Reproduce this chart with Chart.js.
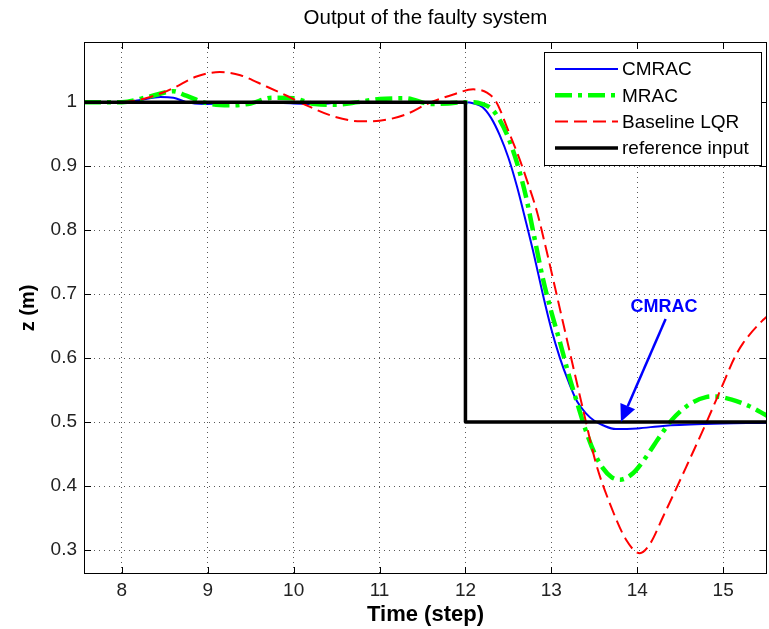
<!DOCTYPE html>
<html>
<head>
<meta charset="utf-8">
<script src="https://cdn.jsdelivr.net/npm/chart.js@4.4.0/dist/chart.umd.min.js"></script>
<style>
  body { margin: 0; background: #fff; }
  canvas { display: block; }
</style>
</head>
<body>
<canvas id="myChart" width="769" height="629"></canvas>
<script>
// tick labels
const xTicks = [8, 9, 10, 11, 12, 13, 14, 15];
const yTicks = [0.3, 0.4, 0.5, 0.6, 0.7, 0.8, 0.9, 1];

// CMRAC
const cmracT = [7.56, 8.0, 8.2, 8.45, 8.6, 8.75, 8.95, 9.2, 9.5, 10.0, 10.3, 10.6, 11.0, 11.5, 12.0, 12.1, 12.2, 12.3, 12.4, 12.5, 12.6, 12.7, 12.8, 12.9, 13.0, 13.1, 13.2, 13.3, 13.4, 13.5, 13.6, 13.75, 14.0, 14.3, 14.8, 15.51];
const cmracZ = [1.0, 1.0, 1.003, 1.008, 1.007, 1.0, 0.997, 0.998, 1.0, 0.998, 0.997, 1.0, 1.0, 1.0, 1.0, 0.998, 0.992, 0.975, 0.948, 0.913, 0.868, 0.815, 0.76, 0.70, 0.645, 0.60, 0.563, 0.532, 0.514, 0.502, 0.495, 0.489, 0.49, 0.494, 0.497, 0.499];

// MRAC
const mracT = [7.56, 8.0, 8.3, 8.5, 8.6, 8.75, 9.0, 9.3, 9.5, 9.75, 10.0, 10.25, 10.5, 10.75, 11.0, 11.3, 11.6, 11.8, 12.0, 12.1, 12.2, 12.3, 12.4, 12.5, 12.6, 12.7, 12.8, 12.9, 13.0, 13.1, 13.2, 13.3, 13.4, 13.5, 13.6, 13.7, 13.8, 13.95, 14.1, 14.25, 14.4, 14.6, 14.8, 14.9, 15.1, 15.3, 15.51];
const mracZ = [1.0, 1.0, 1.008, 1.015, 1.017, 1.01, 0.998, 0.995, 0.998, 1.007, 1.006, 0.997, 0.996, 1.0, 1.005, 1.006, 0.997, 0.998, 1.0, 1.0, 0.997, 0.99, 0.972, 0.944, 0.905, 0.855, 0.79, 0.725, 0.672, 0.625, 0.575, 0.53, 0.487, 0.452, 0.428, 0.414, 0.41, 0.42, 0.445, 0.475, 0.503, 0.527, 0.539, 0.54, 0.535, 0.525, 0.51];

// Baseline LQR
const lqrT = [7.56, 8.0, 8.13, 8.3, 8.48, 8.6, 8.87, 9.14, 9.38, 9.69, 9.92, 10.15, 10.46, 10.78, 11.0, 11.31, 11.55, 11.86, 12.09, 12.25, 12.36, 12.5, 12.63, 12.71, 12.83, 12.94, 13.06, 13.21, 13.37, 13.52, 13.68, 13.87, 14.03, 14.15, 14.3, 14.57, 14.8, 15.0, 15.13, 15.23, 15.46, 15.51];
const lqrZ = [1.0, 1.0, 1.002, 1.007, 1.015, 1.022, 1.04, 1.047, 1.042, 1.024, 1.01, 0.995, 0.978, 0.97, 0.971, 0.981, 0.997, 1.012, 1.02, 1.015, 1.0, 0.955, 0.911, 0.88, 0.83, 0.77, 0.70, 0.612, 0.519, 0.435, 0.373, 0.316, 0.295, 0.31, 0.352, 0.43, 0.498, 0.56, 0.60, 0.623, 0.659, 0.665];

// reference input (step)
const refT = [7.56, 12.0, 12.0, 15.51];
const refZ = [1.0, 1.0, 0.5, 0.5];

// annotation
const titulo = 'Output of the faulty system';
const notaTexto = 'CMRAC';
const notaPos = [14.31, 0.68];
const setaInicio = [14.33, 0.661];
const setaFim = [13.81, 0.5005];

function pontos(t, z) {
    return t.map(function(v, i) { return { x: v, y: z[i] }; });
}

const fonte = "'Liberation Sans', Arial, Helvetica, sans-serif";

// title, box, inner ticks, legend and arrow
const extras = {
    id: 'extras',
    afterDatasetsDraw(chart) {
        const c = chart.ctx;
        const a = chart.chartArea;
        const sx = chart.scales.x;
        const sy = chart.scales.y;
        c.save();

        // title centred over the plot area
        c.fillStyle = '#000';
        c.font = '20.5px ' + fonte;
        c.textAlign = 'center';
        c.textBaseline = 'middle';
        c.fillText(titulo, (a.left + a.right) / 2, 18);

        // frame
        c.strokeStyle = '#000';
        c.lineWidth = 1;
        c.setLineDash([]);
        c.strokeRect(a.left + 0.5, a.top + 0.5, a.right - a.left - 1, a.bottom - a.top - 1);

        // inner tick marks on all sides
        c.beginPath();
        xTicks.forEach(function(v) {
            const px = Math.round(sx.getPixelForValue(v)) + 0.5;
            c.moveTo(px, a.bottom); c.lineTo(px, a.bottom - 7);
            c.moveTo(px, a.top); c.lineTo(px, a.top + 7);
        });
        yTicks.forEach(function(v) {
            const py = Math.round(sy.getPixelForValue(v)) + 0.5;
            c.moveTo(a.left, py); c.lineTo(a.left + 7, py);
            c.moveTo(a.right, py); c.lineTo(a.right - 7, py);
        });
        c.stroke();

        // legend
        const lx = 544, ly = 52, lw = 217, lh = 113;
        c.fillStyle = '#fff';
        c.fillRect(lx, ly, lw, lh);
        c.strokeStyle = '#000';
        c.lineWidth = 1;
        c.strokeRect(lx + 0.5, ly + 0.5, lw, lh);
        chart.data.datasets.forEach(function(ds, k) {
            const yy = 69 + k * 26.3;
            c.strokeStyle = ds.borderColor;
            c.lineWidth = ds.borderWidth;
            c.setLineDash(ds.borderDash || []);
            c.beginPath();
            c.moveTo(555, yy); c.lineTo(618, yy);
            c.stroke();
            c.setLineDash([]);
            c.fillStyle = '#000';
            c.font = '19px ' + fonte;
            c.textAlign = 'left';
            c.textBaseline = 'middle';
            c.fillText(ds.label, 622, yy + 1);
        });

        // CMRAC arrow
        const x0 = sx.getPixelForValue(setaInicio[0]), y0 = sy.getPixelForValue(setaInicio[1]);
        const x1 = sx.getPixelForValue(setaFim[0]), y1 = sy.getPixelForValue(setaFim[1]);
        const ang = Math.atan2(y1 - y0, x1 - x0);
        const cab = 17, larg = 8;
        const bx = x1 - cab * Math.cos(ang), by = y1 - cab * Math.sin(ang);
        c.strokeStyle = '#0000ff';
        c.fillStyle = '#0000ff';
        c.lineWidth = 2.5;
        c.beginPath();
        c.moveTo(x0, y0); c.lineTo(bx, by);
        c.stroke();
        c.beginPath();
        c.moveTo(x1, y1);
        c.lineTo(bx + larg * Math.sin(ang), by - larg * Math.cos(ang));
        c.lineTo(bx - larg * Math.sin(ang), by + larg * Math.cos(ang));
        c.closePath();
        c.fill();
        c.font = 'bold 18px ' + fonte;
        c.textAlign = 'center';
        c.textBaseline = 'middle';
        c.fillText(notaTexto, sx.getPixelForValue(notaPos[0]), sy.getPixelForValue(notaPos[1]));

        c.restore();
    }
};

const ctx = document.getElementById('myChart').getContext('2d');

new Chart(ctx, {
    type: 'line',
    data: {
        datasets: [
            {
                label: 'CMRAC',
                data: pontos(cmracT, cmracZ),
                borderColor: '#0000ff',
                borderWidth: 2,
                cubicInterpolationMode: 'monotone',
                order: 4
            },
            {
                label: 'MRAC',
                data: pontos(mracT, mracZ),
                borderColor: '#00ff00',
                borderWidth: 4.5,
                borderDash: [17, 6, 4, 6],
                cubicInterpolationMode: 'monotone',
                order: 3
            },
            {
                label: 'Baseline LQR',
                data: pontos(lqrT, lqrZ),
                borderColor: '#ff0000',
                borderWidth: 2,
                borderDash: [13, 6],
                cubicInterpolationMode: 'monotone',
                order: 2
            },
            {
                label: 'reference input',
                data: pontos(refT, refZ),
                borderColor: '#000000',
                borderWidth: 3.5,
                tension: 0,
                order: 1
            }
        ]
    },
    options: {
        responsive: false,
        animation: false,
        devicePixelRatio: 1,
        elements: { point: { radius: 0 }, line: { borderJoinStyle: 'round' } },
        layout: { padding: { top: 42, right: 2, bottom: 0, left: 0 } },
        plugins: {
            legend: { display: false },
            tooltip: { enabled: false },
            title: { display: false }
        },
        scales: {
            x: {
                type: 'linear',
                min: 7.56,
                max: 15.51,
                afterBuildTicks: function(s) { s.ticks = xTicks.map(function(v) { return { value: v }; }); },
                afterFit: function(s) { s.height = 55; },
                ticks: {
                    color: '#222',
                    padding: 5,
                    font: { family: fonte, size: 19 },
                    callback: function(v) { return String(v); }
                },
                grid: { color: 'rgba(0,0,0,0.65)', drawTicks: false, lineWidth: 1 },
                border: { display: false, dash: [1, 4] },
                title: {
                    display: true,
                    text: 'Time (step)',
                    color: '#000',
                    font: { family: fonte, size: 22, weight: 'bold', lineHeight: 1.2 },
                    padding: { top: 0, bottom: 1 }
                }
            },
            y: {
                min: 0.2625,
                max: 1.094,
                afterBuildTicks: function(s) { s.ticks = yTicks.map(function(v) { return { value: v }; }); },
                afterFit: function(s) { s.width = 84; },
                ticks: {
                    color: '#222',
                    padding: 7,
                    font: { family: fonte, size: 19 },
                    callback: function(v) { return String(Math.round(v * 10) / 10); }
                },
                grid: { color: 'rgba(0,0,0,0.65)', drawTicks: false, lineWidth: 1 },
                border: { display: false, dash: [1, 4] },
                title: {
                    display: true,
                    text: 'z (m)',
                    color: '#000',
                    font: { family: fonte, size: 20, weight: 'bold', lineHeight: 1.2 },
                    padding: { top: 16, bottom: 0 }
                }
            }
        }
    },
    plugins: [extras]
});
</script>
</body>
</html>
